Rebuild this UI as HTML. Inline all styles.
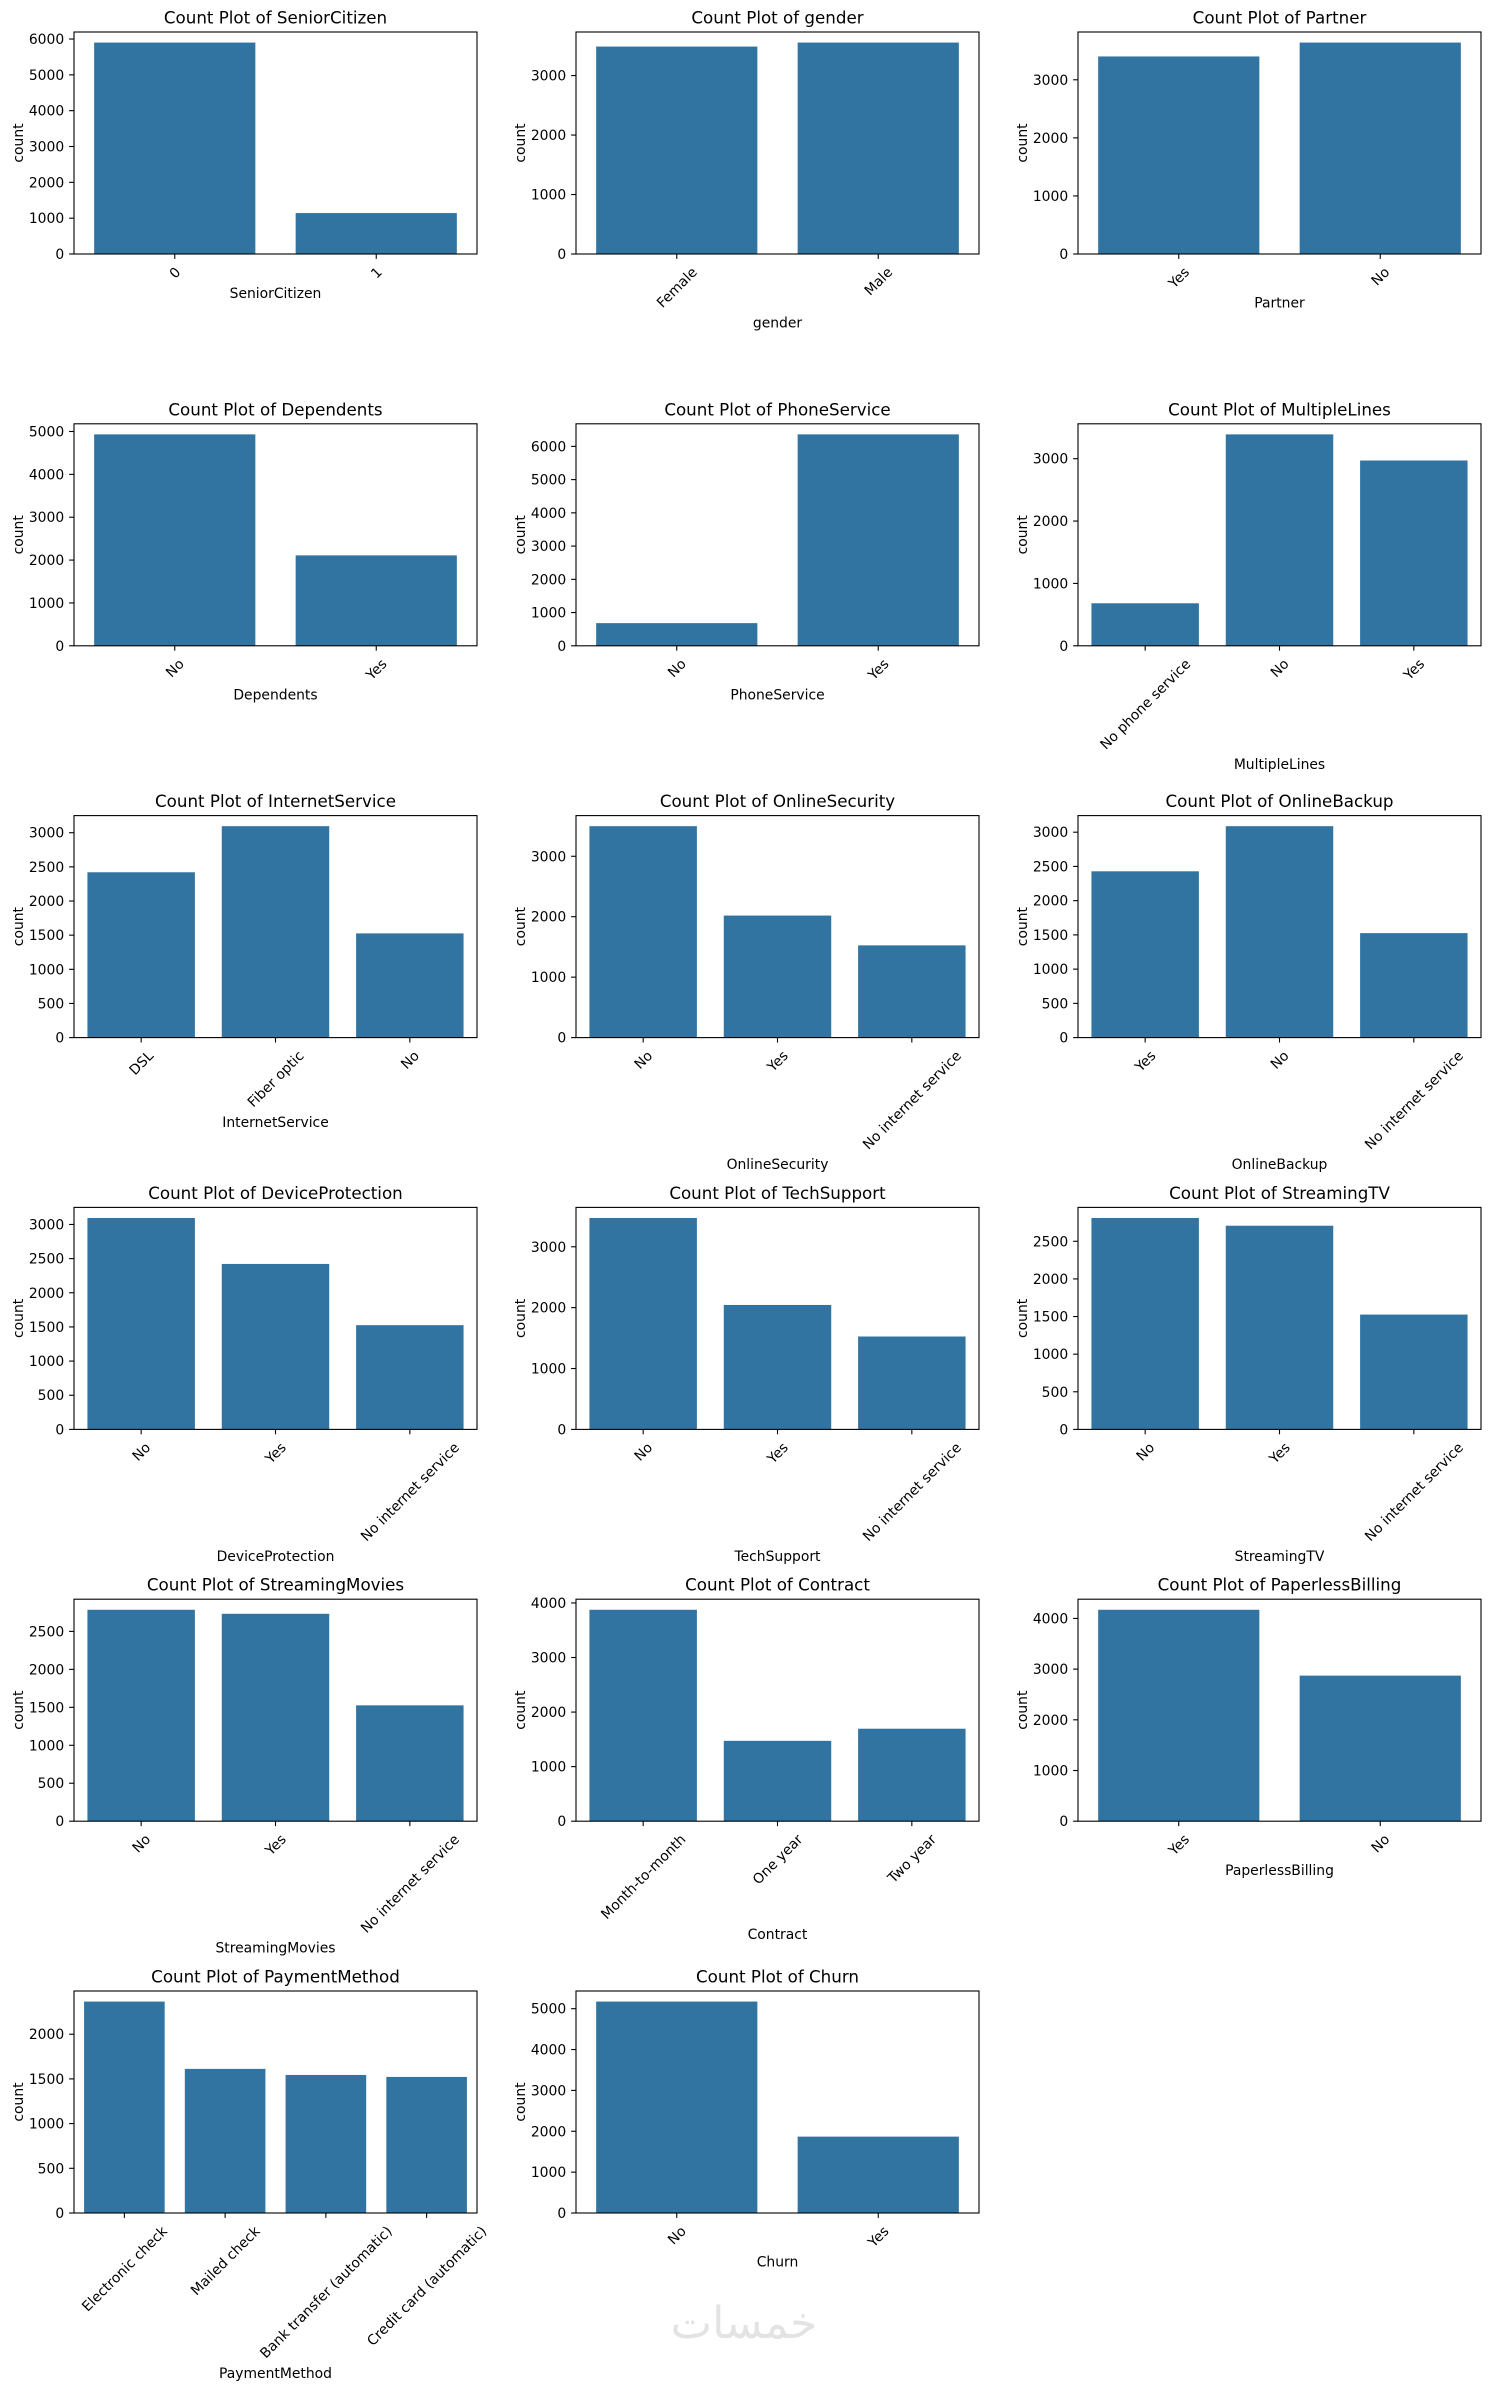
<!DOCTYPE html>
<html><head><meta charset="utf-8">
<style>
html,body{margin:0;padding:0;background:#fff;}
svg{display:block;font-family:"DejaVu Sans","Liberation Sans",sans-serif;}
</style></head>
<body>
<svg id="fig" width="1489" height="2390" viewBox="0 0 1489 2390" xmlns="http://www.w3.org/2000/svg">
<text x="744" y="2338" text-anchor="middle" font-size="44" fill="#e3e3e3">خمسات</text>
</svg>
<script>
const titles = ["SeniorCitizen","gender","Partner","Dependents","PhoneService","MultipleLines","InternetService","OnlineSecurity","OnlineBackup","DeviceProtection","TechSupport","StreamingTV","StreamingMovies","Contract","PaperlessBilling","PaymentMethod","Churn"];
const categories = [
 ["0","1"],["Female","Male"],["Yes","No"],
 ["No","Yes"],["No","Yes"],["No phone service","No","Yes"],
 ["DSL","Fiber optic","No"],["No","Yes","No internet service"],["Yes","No","No internet service"],
 ["No","Yes","No internet service"],["No","Yes","No internet service"],["No","Yes","No internet service"],
 ["No","Yes","No internet service"],["Month-to-month","One year","Two year"],["Yes","No"],
 ["Electronic check","Mailed check","Bank transfer (automatic)","Credit card (automatic)"],["No","Yes"]
];
const counts = [
 [5901,1142],[3488,3555],[3402,3641],
 [4933,2110],[682,6361],[682,3390,2971],
 [2421,3096,1526],[3498,2019,1526],[2429,3088,1526],
 [3095,2422,1526],[3473,2044,1526],[2810,2707,1526],
 [2785,2732,1526],[3875,1473,1695],[4171,2872],
 [2365,1612,1544,1522],[5174,1869]
];
const yTicks = [
 [0,1000,2000,3000,4000,5000,6000],[0,1000,2000,3000],[0,1000,2000,3000],
 [0,1000,2000,3000,4000,5000],[0,1000,2000,3000,4000,5000,6000],[0,1000,2000,3000],
 [0,500,1000,1500,2000,2500,3000],[0,1000,2000,3000],[0,500,1000,1500,2000,2500,3000],
 [0,500,1000,1500,2000,2500,3000],[0,1000,2000,3000],[0,500,1000,1500,2000,2500],
 [0,500,1000,1500,2000,2500],[0,1000,2000,3000,4000],[0,1000,2000,3000,4000],
 [0,500,1000,1500,2000],[0,1000,2000,3000,4000,5000]
];

const NS = "http://www.w3.org/2000/svg";
const svg = document.getElementById("fig");
const colX = [74, 576, 1078];
const AW = 403, AH = 222, ROW0 = 32, ROWSTEP = 391.8;
const BLUE = "#3274a1";
function mk(tag, attrs, parent){
  const e = document.createElementNS(NS, tag);
  for (const k in attrs) e.setAttribute(k, attrs[k]);
  (parent||svg).appendChild(e);
  return e;
}
titles.forEach((name, i) => {
  const L = colX[i % 3], T = ROW0 + Math.floor(i / 3) * ROWSTEP, B = T + AH, R = L + AW;
  const g = mk("g", {});
  
  
  const cats = categories[i], vals = counts[i], ticks = yTicks[i];
  const ymax = Math.max(...vals) * 1.05;
  const ys = v => B - v / ymax * AH;
  const n = cats.length, bw = AW / n;
  const xs = k => L + (k + 0.5) * bw;
  // bars
  vals.forEach((v, k) => {
    const r = mk("rect", {x: xs(k) - 0.4 * bw, y: ys(v), width: 0.8 * bw, height: B - ys(v), fill: BLUE}, g);
    
    
  });
  // frame
  const f = mk("rect", {x: L, y: T, width: AW, height: AH, fill: "none", stroke: "#000", "stroke-width": 1.1}, g);
  
  
  // title
  const t = mk("text", {x: L + AW / 2, y: T - 8.5, "text-anchor": "middle", "font-size": 16.7, fill: "#000"}, g);
  t.textContent = "Count Plot of " + name;
  
  
  // y ticks
  let maxW = 0;
  ticks.forEach(v => {
    const y = ys(v);
    mk("line", {x1: L - 4.9, x2: L, y1: y, y2: y, stroke: "#000", "stroke-width": 1.1}, g);
    const tl = mk("text", {x: L - 9.8, y: y + 5, "text-anchor": "end", "font-size": 13.9, fill: "#000"}, g);
    tl.textContent = v;
    
    
    maxW = Math.max(maxW, tl.getComputedTextLength());
  });
  const yl = mk("text", {"text-anchor": "middle", "font-size": 13.9, fill: "#000",
    transform: "translate(" + (L - 9.8 - maxW - 5.6) + "," + (T + AH / 2) + ") rotate(-90)"}, g);
  yl.textContent = "count";
  
  
  // x ticks
  const y0 = B + 9.8, h = 16.2;
  let maxBox = 0;
  cats.forEach((c, k) => {
    const x = xs(k);
    mk("line", {x1: x, x2: x, y1: B, y2: B + 4.9, stroke: "#000", "stroke-width": 1.1}, g);
    const tl = mk("text", {"text-anchor": "middle", "font-size": 13.9, fill: "#000"}, g);
    tl.textContent = c;
    
    
    const w = tl.getComputedTextLength();
    const box = (w + h) / Math.SQRT2;
    maxBox = Math.max(maxBox, box);
    tl.setAttribute("transform", "translate(" + x + "," + (y0 + box / 2) + ") rotate(-45)");
    tl.setAttribute("dy", "0.35em");
  });
  const xl = mk("text", {x: L + AW / 2, y: y0 + maxBox + 5.6 + 11, "text-anchor": "middle", "font-size": 13.9, fill: "#000"}, g);
  xl.textContent = name;
  
  
});
</script>
</body></html>
